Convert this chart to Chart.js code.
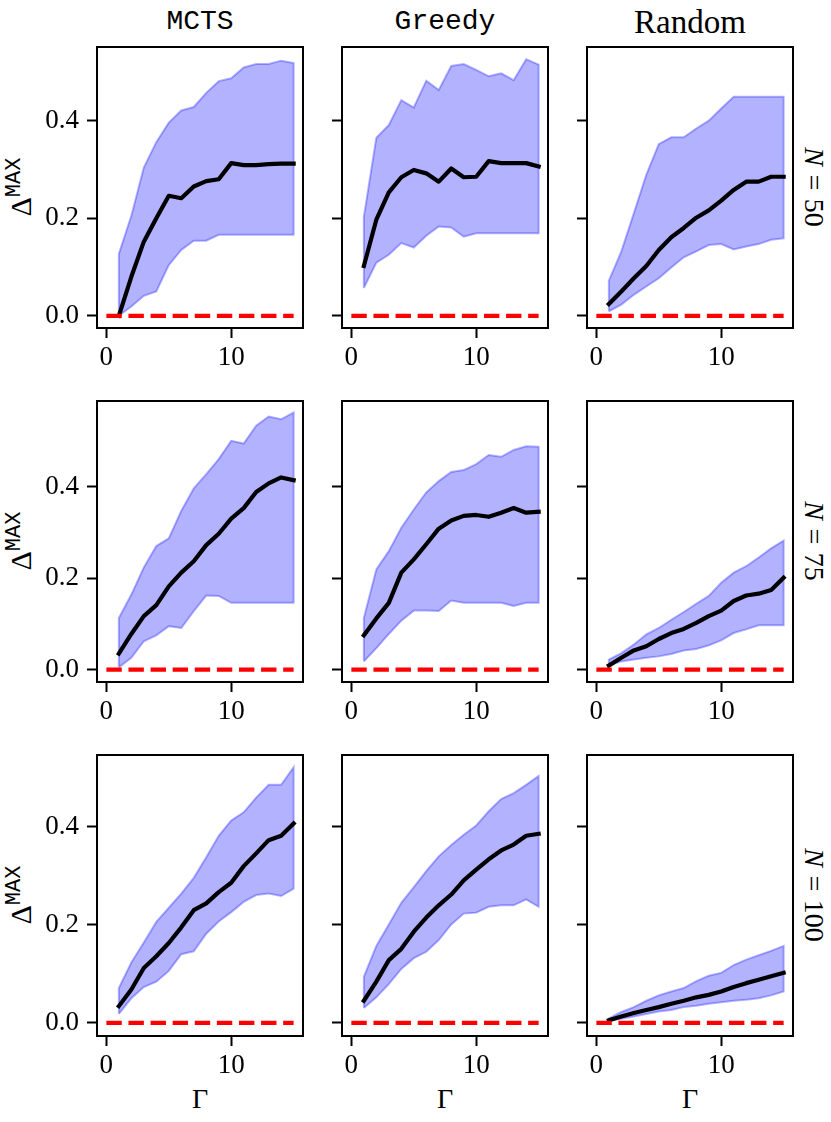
<!DOCTYPE html>
<html>
<head>
<meta charset="utf-8">
<script src="https://cdn.jsdelivr.net/npm/chart.js@4.4.1/dist/chart.umd.min.js"></script>
<style>
  body { margin: 0; background: #fff; }
  #fig { position: relative; width: 831px; height: 1122px; overflow: hidden; }
  #fig canvas { position: absolute; }
  .lbl { position: absolute; transform: translate(-50%, -50%); white-space: nowrap; line-height: 1; color: #000; }
  .mono { font-family: 'Liberation Mono', 'DejaVu Sans Mono', monospace; }
  .serif { font-family: 'Liberation Serif', 'DejaVu Serif', serif; }
</style>
</head>
<body>
<div id="fig">
  <div class="lbl mono" style="left:200px;top:22px;font-size:28px">MCTS</div>
  <div class="lbl mono" style="left:445px;top:22px;font-size:28px">Greedy</div>
  <div class="lbl serif" style="left:690px;top:22px;font-size:33px">Random</div>

  <div class="lbl" style="left:21px;top:187px;transform:translate(-50%,-50%) rotate(-90deg)"><span class="serif" style="font-size:30px">&Delta;</span><span class="mono" style="font-size:22px;position:relative;top:-11px">MAX</span></div>
  <div class="lbl" style="left:21px;top:541px;transform:translate(-50%,-50%) rotate(-90deg)"><span class="serif" style="font-size:30px">&Delta;</span><span class="mono" style="font-size:22px;position:relative;top:-11px">MAX</span></div>
  <div class="lbl" style="left:21px;top:895px;transform:translate(-50%,-50%) rotate(-90deg)"><span class="serif" style="font-size:30px">&Delta;</span><span class="mono" style="font-size:22px;position:relative;top:-11px">MAX</span></div>

  <div class="lbl serif" style="left:814px;top:187px;font-size:28px;transform:translate(-50%,-50%) rotate(90deg)"><i>N</i><span style="margin:0 0.3em">=</span>50</div>
  <div class="lbl serif" style="left:814px;top:541px;font-size:28px;transform:translate(-50%,-50%) rotate(90deg)"><i>N</i><span style="margin:0 0.3em">=</span>75</div>
  <div class="lbl serif" style="left:814px;top:895px;font-size:28px;transform:translate(-50%,-50%) rotate(90deg)"><i>N</i><span style="margin:0 0.3em">=</span>100</div>

  <div class="lbl serif" style="left:200px;top:1099px;font-size:28px">&Gamma;</div>
  <div class="lbl serif" style="left:445px;top:1099px;font-size:28px">&Gamma;</div>
  <div class="lbl serif" style="left:690px;top:1099px;font-size:28px">&Gamma;</div>
</div>
<script>
var gamma = [1, 2, 3, 4, 5, 6, 7, 8, 9, 10, 11, 12, 13, 14, 15];
var xTicks = [0, 10];
var yTicks = [0, 0.2, 0.4];
var baselineX = [0, 15];
var baselineY = [0, 0];

// N = 50
var mctsMean50 = [0.0, 0.08, 0.152, 0.2, 0.246, 0.241, 0.265, 0.276, 0.28, 0.313, 0.309, 0.309, 0.311, 0.312, 0.312];
var mctsLow50 = [0.0, 0.019, 0.041, 0.05, 0.104, 0.135, 0.154, 0.154, 0.166, 0.166, 0.166, 0.166, 0.166, 0.166, 0.166];
var mctsHigh50 = [0.127, 0.205, 0.304, 0.356, 0.396, 0.421, 0.428, 0.457, 0.481, 0.487, 0.509, 0.516, 0.516, 0.523, 0.518];
var greedyMean50 = [0.102, 0.197, 0.253, 0.284, 0.299, 0.292, 0.275, 0.302, 0.284, 0.285, 0.317, 0.313, 0.313, 0.313, 0.306];
var greedyLow50 = [0.057, 0.109, 0.125, 0.149, 0.14, 0.164, 0.183, 0.181, 0.162, 0.169, 0.169, 0.169, 0.169, 0.169, 0.169];
var greedyHigh50 = [0.203, 0.365, 0.391, 0.442, 0.427, 0.482, 0.463, 0.512, 0.516, 0.504, 0.491, 0.497, 0.483, 0.526, 0.515];
var randomMean50 = [0.024, 0.05, 0.077, 0.102, 0.135, 0.161, 0.18, 0.201, 0.216, 0.236, 0.258, 0.275, 0.275, 0.285, 0.285];
var randomLow50 = [0.009, 0.023, 0.043, 0.06, 0.077, 0.099, 0.12, 0.132, 0.145, 0.147, 0.136, 0.142, 0.147, 0.156, 0.159];
var randomHigh50 = [0.072, 0.132, 0.21, 0.289, 0.352, 0.366, 0.366, 0.384, 0.4, 0.425, 0.449, 0.449, 0.449, 0.449, 0.449];

// N = 75
var mctsMean75 = [0.035, 0.078, 0.117, 0.141, 0.182, 0.212, 0.237, 0.272, 0.297, 0.33, 0.353, 0.388, 0.407, 0.42, 0.414];
var mctsLow75 = [0.005, 0.026, 0.062, 0.075, 0.095, 0.091, 0.128, 0.162, 0.161, 0.146, 0.146, 0.146, 0.146, 0.146, 0.146];
var mctsHigh75 = [0.113, 0.164, 0.223, 0.27, 0.287, 0.347, 0.396, 0.427, 0.46, 0.5, 0.494, 0.533, 0.553, 0.547, 0.562];
var greedyMean75 = [0.075, 0.112, 0.146, 0.212, 0.241, 0.274, 0.308, 0.326, 0.336, 0.338, 0.334, 0.343, 0.353, 0.343, 0.345];
var greedyLow75 = [0.018, 0.047, 0.078, 0.107, 0.129, 0.129, 0.128, 0.151, 0.146, 0.146, 0.146, 0.146, 0.139, 0.146, 0.146];
var greedyHigh75 = [0.113, 0.219, 0.259, 0.31, 0.35, 0.387, 0.412, 0.432, 0.436, 0.449, 0.469, 0.465, 0.48, 0.488, 0.487];
var randomMean75 = [0.009, 0.026, 0.042, 0.051, 0.067, 0.08, 0.089, 0.102, 0.117, 0.129, 0.15, 0.162, 0.166, 0.174, 0.201];
var randomLow75 = [0.009, 0.018, 0.022, 0.026, 0.029, 0.034, 0.042, 0.045, 0.053, 0.064, 0.08, 0.088, 0.097, 0.097, 0.097];
var randomHigh75 = [0.022, 0.036, 0.055, 0.077, 0.091, 0.109, 0.126, 0.144, 0.161, 0.19, 0.212, 0.226, 0.245, 0.265, 0.282];

// N = 100
var mctsMean100 = [0.034, 0.068, 0.112, 0.136, 0.163, 0.195, 0.23, 0.244, 0.267, 0.286, 0.32, 0.346, 0.373, 0.382, 0.407];
var mctsLow100 = [0.018, 0.05, 0.073, 0.084, 0.106, 0.14, 0.146, 0.182, 0.207, 0.226, 0.247, 0.261, 0.264, 0.259, 0.274];
var mctsHigh100 = [0.071, 0.123, 0.164, 0.206, 0.235, 0.264, 0.296, 0.338, 0.382, 0.413, 0.43, 0.46, 0.486, 0.486, 0.522];
var greedyMean100 = [0.045, 0.084, 0.128, 0.151, 0.186, 0.215, 0.24, 0.262, 0.291, 0.313, 0.334, 0.352, 0.364, 0.382, 0.386];
var greedyLow100 = [0.03, 0.052, 0.079, 0.11, 0.132, 0.145, 0.169, 0.201, 0.223, 0.225, 0.237, 0.24, 0.24, 0.252, 0.237];
var greedyHigh100 = [0.094, 0.157, 0.201, 0.245, 0.277, 0.31, 0.34, 0.363, 0.384, 0.403, 0.432, 0.457, 0.469, 0.486, 0.504];
var randomMean100 = [0.005, 0.013, 0.02, 0.026, 0.032, 0.039, 0.045, 0.052, 0.057, 0.064, 0.073, 0.081, 0.088, 0.095, 0.102];
var randomLow100 = [0.005, 0.008, 0.013, 0.018, 0.023, 0.026, 0.032, 0.035, 0.039, 0.042, 0.045, 0.047, 0.05, 0.056, 0.064];
var randomHigh100 = [0.009, 0.022, 0.032, 0.045, 0.056, 0.064, 0.071, 0.085, 0.096, 0.102, 0.118, 0.129, 0.138, 0.147, 0.157];

var panels = [
  [[mctsMean50, mctsLow50, mctsHigh50], [greedyMean50, greedyLow50, greedyHigh50], [randomMean50, randomLow50, randomHigh50]],
  [[mctsMean75, mctsLow75, mctsHigh75], [greedyMean75, greedyLow75, greedyHigh75], [randomMean75, randomLow75, randomHigh75]],
  [[mctsMean100, mctsLow100, mctsHigh100], [greedyMean100, greedyLow100, greedyHigh100], [randomMean100, randomLow100, randomHigh100]]
];

// layout (pixels) and per-row y limits, matching matplotlib's sharey='row'
var colLeft = [97, 342, 587];
var rowTop = [47, 401, 755];
var boxW = 206, boxH = 281;
var padL = 95, padT = 8, padR = 8, padB = 50;
var yLimits = [[-0.025, 0.551], [-0.027, 0.587], [-0.027, 0.547]];

var tickFont = { family: "'Liberation Serif', 'DejaVu Serif', serif", size: 27 };

var framePlugin = {
  id: 'frame',
  afterDraw: function(chart) {
    var a = chart.chartArea, ctx = chart.ctx;
    ctx.save();
    ctx.strokeStyle = '#000';
    ctx.lineWidth = 2;
    ctx.strokeRect(a.left, a.top, a.right - a.left, a.bottom - a.top);
    ctx.restore();
  }
};

function pts(xs, ys) {
  return xs.map(function(x, i) { return { x: x, y: ys[i] }; });
}

function bandShape(lo, hi) {
  var lower = pts(gamma, lo);
  var upper = pts(gamma, hi).reverse();
  return lower.concat(upper, [lower[0]]);
}

function makePanel(r, c) {
  var series = panels[r][c];
  var canvas = document.createElement('canvas');
  var w = padL + boxW + padR, h = padT + boxH + padB;
  canvas.width = w; canvas.height = h;
  canvas.style.width = w + 'px'; canvas.style.height = h + 'px';
  canvas.style.left = (colLeft[c] - padL) + 'px';
  canvas.style.top = (rowTop[r] - padT) + 'px';
  document.getElementById('fig').appendChild(canvas);

  new Chart(canvas.getContext('2d'), {
    type: 'line',
    data: {
      datasets: [
        { data: pts(baselineX, baselineY), borderColor: '#ff0000', borderWidth: 4.2, borderDash: [15.4, 6.7], pointRadius: 0, fill: false, order: 0 },
        { data: pts(gamma, series[0]), borderColor: '#000', borderWidth: 4.2, borderJoinStyle: 'round', borderCapStyle: 'square', pointRadius: 0, fill: false, order: 1 },
        { data: bandShape(series[1], series[2]), borderColor: 'rgba(0,0,255,0.3)', backgroundColor: 'rgba(0,0,255,0.3)', borderWidth: 2, pointRadius: 0, fill: 'shape', order: 2 }
      ]
    },
    options: {
      responsive: false, animation: false, events: [],
      layout: { padding: { left: 0, top: padT, right: padR, bottom: 0 } },
      plugins: { legend: { display: false }, tooltip: { enabled: false } },
      elements: { line: { tension: 0 } },
      scales: {
        x: {
          type: 'linear', min: -0.75, max: 15.75,
          afterBuildTicks: function(s) { s.ticks = xTicks.map(function(v) { return { value: v }; }); },
          afterFit: function(s) { s.height = padB; s.paddingLeft = 0; s.paddingRight = 0; },
          ticks: { font: tickFont, color: '#000', padding: 4, maxRotation: 0, callback: function(v) { return String(v); } },
          grid: { drawOnChartArea: false, drawTicks: true, tickLength: 10, tickWidth: 2, tickColor: '#000' },
          border: { display: false }
        },
        y: {
          type: 'linear', min: yLimits[r][0], max: yLimits[r][1],
          afterBuildTicks: function(s) { s.ticks = yTicks.map(function(v) { return { value: v }; }); },
          afterFit: function(s) { s.width = padL; s.paddingTop = 0; s.paddingBottom = 0; },
          ticks: { font: tickFont, color: '#000', padding: 8, callback: function(v) { return c === 0 ? v.toFixed(1) : ''; } },
          grid: { drawOnChartArea: false, drawTicks: true, tickLength: 10, tickWidth: 2, tickColor: '#000' },
          border: { display: false }
        }
      }
    },
    plugins: [framePlugin]
  });
}

for (var r = 0; r < 3; r++) {
  for (var c = 0; c < 3; c++) makePanel(r, c);
}
</script>
</body>
</html>
